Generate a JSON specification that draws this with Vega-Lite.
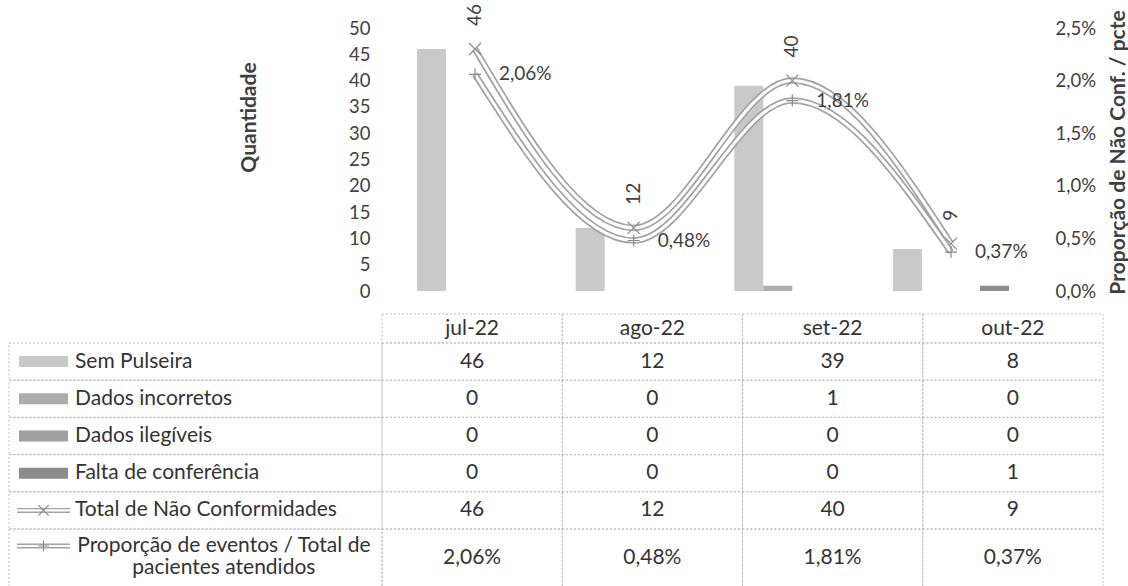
{
  "$schema": "https://vega.github.io/schema/vega-lite/v6.json",
  "padding": {"left": 7, "top": 3, "right": 0, "bottom": 0},
  "background": "white",
  "bounds": "flush",
  "align": "each",
  "columns": 2,
  "spacing": 0,
  "config": {
    "view": {"stroke": null},
    "font": "Lato",
    "text": {"font": "Lato"},
    "axis": {"labelFont": "Lato", "titleFont": "Lato", "domain": false, "ticks": false, "grid": false, "labelColor": "#404040", "titleColor": "#404040", "labelFontSize": 18.5, "titleFontSize": 21, "titleFontWeight": "bold", "labelOverlap": false},
    "locale": {"number": {"decimal": ",", "thousands": ".", "grouping": [3], "currency": ["R$", ""]}}
  },
  "datasets": {
    "dados": [
      {"mes": "jul-22", "serie": "Sem Pulseira", "valor": 46},
      {"mes": "jul-22", "serie": "Dados incorretos", "valor": 0},
      {"mes": "jul-22", "serie": "Dados ilegíveis", "valor": 0},
      {"mes": "jul-22", "serie": "Falta de conferência", "valor": 0},
      {"mes": "jul-22", "serie": "Total de Não Conformidades", "valor": 46},
      {"mes": "jul-22", "serie": "Proporção de eventos / Total de pacientes atendidos", "valor": 0.0206},
      {"mes": "ago-22", "serie": "Sem Pulseira", "valor": 12},
      {"mes": "ago-22", "serie": "Dados incorretos", "valor": 0},
      {"mes": "ago-22", "serie": "Dados ilegíveis", "valor": 0},
      {"mes": "ago-22", "serie": "Falta de conferência", "valor": 0},
      {"mes": "ago-22", "serie": "Total de Não Conformidades", "valor": 12},
      {"mes": "ago-22", "serie": "Proporção de eventos / Total de pacientes atendidos", "valor": 0.0048},
      {"mes": "set-22", "serie": "Sem Pulseira", "valor": 39},
      {"mes": "set-22", "serie": "Dados incorretos", "valor": 1},
      {"mes": "set-22", "serie": "Dados ilegíveis", "valor": 0},
      {"mes": "set-22", "serie": "Falta de conferência", "valor": 0},
      {"mes": "set-22", "serie": "Total de Não Conformidades", "valor": 40},
      {"mes": "set-22", "serie": "Proporção de eventos / Total de pacientes atendidos", "valor": 0.0181},
      {"mes": "out-22", "serie": "Sem Pulseira", "valor": 8},
      {"mes": "out-22", "serie": "Dados incorretos", "valor": 0},
      {"mes": "out-22", "serie": "Dados ilegíveis", "valor": 0},
      {"mes": "out-22", "serie": "Falta de conferência", "valor": 1},
      {"mes": "out-22", "serie": "Total de Não Conformidades", "valor": 9},
      {"mes": "out-22", "serie": "Proporção de eventos / Total de pacientes atendidos", "valor": 0.0037}
    ]
  },
  "concat": [
    {"width": 373, "height": 286, "data": {"values": []}, "mark": "point", "encoding": {}},
    {
      "width": 648, "height": 263,
      "data": {"name": "dados"},
      "resolve": {"scale": {"y": "independent"}},
      "layer": [
        {
          "encoding": {
            "x": {"field": "mes", "type": "nominal", "sort": ["jul-22", "ago-22", "set-22", "out-22"], "axis": null, "scale": {"paddingInner": 0.269, "paddingOuter": 0.1765, "align": 0.625}},
            "y": {"field": "valor", "type": "quantitative", "stack": null, "scale": {"domain": [0, 50], "nice": false},
              "axis": {"title": "Quantidade", "values": [0, 5, 10, 15, 20, 25, 30, 35, 40, 45, 50], "labelOverlap": false, "labelFlush": false, "labelPadding": 12, "titleAngle": 270, "titleX": -133, "titleY": 89, "titleAlign": "center", "titleBaseline": "middle"}}
          },
          "layer": [
            {
              "transform": [{"filter": {"field": "serie", "oneOf": ["Sem Pulseira", "Dados incorretos", "Dados ilegíveis", "Falta de conferência"]}}],
              "mark": {"type": "bar"},
              "encoding": {
                "xOffset": {"field": "serie", "type": "nominal", "sort": ["Sem Pulseira", "Dados incorretos", "Dados ilegíveis", "Falta de conferência"], "scale": {"paddingInner": 0, "paddingOuter": 0}},
                "color": {"field": "serie", "type": "nominal", "scale": {"domain": ["Sem Pulseira", "Dados incorretos", "Dados ilegíveis", "Falta de conferência"], "range": ["#c9c9c9", "#adadad", "#a0a0a0", "#8c8c8c"]}, "legend": null}
              }
            },
            {
              "transform": [{"filter": {"field": "serie", "equal": "Total de Não Conformidades"}}],
              "mark": {"type": "line", "interpolate": "monotone", "color": "#a3a3a3", "strokeWidth": 6.5}
            },
            {
              "transform": [{"filter": {"field": "serie", "equal": "Total de Não Conformidades"}}],
              "mark": {"type": "line", "interpolate": "monotone", "color": "#ffffff", "strokeWidth": 3}
            },
            {
              "transform": [{"filter": {"field": "serie", "equal": "Total de Não Conformidades"}}],
              "mark": {"type": "point", "shape": "M-1,-1L1,1M-1,1L1,-1", "filled": false, "color": "#8a8a8a", "strokeWidth": 1.2, "size": 144, "opacity": 1}
            },
            {
              "transform": [{"filter": {"field": "serie", "equal": "Total de Não Conformidades"}}],
              "mark": {"type": "text", "angle": 270, "align": "left", "baseline": "middle", "dx": 23, "fontSize": 19, "color": "#404040"},
              "encoding": {"text": {"field": "valor", "type": "quantitative", "format": "d"}}
            }
          ]
        },
        {
          "transform": [{"filter": {"field": "serie", "equal": "Proporção de eventos / Total de pacientes atendidos"}}],
          "encoding": {
            "x": {"field": "mes", "type": "nominal", "sort": ["jul-22", "ago-22", "set-22", "out-22"], "axis": null},
            "y": {"field": "valor", "type": "quantitative", "scale": {"domain": [0, 0.025], "nice": false},
              "axis": {"orient": "right", "title": "Proporção de Não Conf. / pcte", "format": ".1%", "values": [0, 0.005, 0.01, 0.015, 0.02, 0.025], "labelOverlap": false, "labelFlush": false, "labelPadding": 25, "titleAngle": 270, "titleX": 88, "titleY": 124, "titleAlign": "center", "titleBaseline": "middle"}}
          },
          "layer": [
            {"mark": {"type": "line", "interpolate": "monotone", "color": "#a3a3a3", "strokeWidth": 6.5}},
            {"mark": {"type": "line", "interpolate": "monotone", "color": "#ffffff", "strokeWidth": 3}},
            {"mark": {"type": "point", "shape": "M-1,0L1,0M0,-1L0,1", "filled": false, "color": "#8a8a8a", "strokeWidth": 1.2, "size": 144, "opacity": 1}},
            {"mark": {"type": "text", "align": "left", "baseline": "middle", "dx": 24, "fontSize": 19, "color": "#404040"},
             "encoding": {"text": {"field": "valor", "type": "quantitative", "format": ".2%"}}}
          ]
        }
      ]
    },
    {"width": 373, "height": 29, "data": {"values": []}, "mark": "point", "encoding": {}},
    {
      "width": 721, "height": 29,
      "data": {"name": "dados"},
      "transform": [{"filter": {"field": "serie", "equal": "Sem Pulseira"}}],
      "encoding": {
        "x": {"field": "mes", "type": "nominal", "sort": ["jul-22", "ago-22", "set-22", "out-22"], "axis": null, "scale": {"paddingInner": 0, "paddingOuter": 0}},
        "y": {"datum": "cabecalho", "type": "nominal", "axis": null, "scale": {"paddingInner": 0, "paddingOuter": 0}}
      },
      "layer": [
        {"mark": {"type": "rect", "fill": "#ffffff", "fillOpacity": 0, "stroke": "#bdbdbd", "strokeDash": [2, 2], "strokeWidth": 1}},
        {"mark": {"type": "text", "fontSize": 21, "color": "#333333", "baseline": "middle"}, "encoding": {"text": {"field": "mes"}}}
      ]
    },
    {
      "width": 373, "height": 186,
      "data": {"name": "dados"},
      "transform": [{"filter": {"field": "mes", "equal": "jul-22"}}, {"filter": {"field": "serie", "oneOf": ["Sem Pulseira", "Dados incorretos", "Dados ilegíveis", "Falta de conferência", "Total de Não Conformidades"]}}],
      "encoding": {
        "y": {"field": "serie", "type": "nominal", "sort": ["Sem Pulseira", "Dados incorretos", "Dados ilegíveis", "Falta de conferência", "Total de Não Conformidades"], "axis": null, "scale": {"paddingInner": 0, "paddingOuter": 0}}
      },
      "layer": [
        {"mark": {"type": "rect", "fill": "#ffffff", "fillOpacity": 0, "stroke": "#bdbdbd", "strokeDash": [2, 2], "strokeWidth": 1},
         "encoding": {"x": {"datum": 0, "type": "quantitative", "scale": {"domain": [0, 1], "nice": false, "zero": false}, "axis": null}, "x2": {"datum": 1}}},
        {"transform": [{"filter": {"field": "serie", "oneOf": ["Sem Pulseira", "Dados incorretos", "Dados ilegíveis", "Falta de conferência"]}}],
         "mark": {"type": "point", "shape": "M-1,-0.224H1V0.224H-1Z", "filled": true, "size": 2401, "opacity": 1},
         "encoding": {"x": {"datum": 0.0925, "type": "quantitative"}, "color": {"field": "serie", "type": "nominal", "scale": {"domain": ["Sem Pulseira", "Dados incorretos", "Dados ilegíveis", "Falta de conferência"], "range": ["#c9c9c9", "#adadad", "#a0a0a0", "#8c8c8c"]}, "legend": null}}},
        {"transform": [{"filter": {"field": "serie", "equal": "Total de Não Conformidades"}}],
         "mark": {"type": "point", "shape": "M-1,0H1", "filled": false, "color": "#a3a3a3", "strokeWidth": 5, "size": 2809, "opacity": 1},
         "encoding": {"x": {"datum": 0.0925, "type": "quantitative"}}},
        {"transform": [{"filter": {"field": "serie", "equal": "Total de Não Conformidades"}}],
         "mark": {"type": "point", "shape": "M-1,0H1", "filled": false, "color": "#ffffff", "strokeWidth": 2.2, "size": 2809, "opacity": 1},
         "encoding": {"x": {"datum": 0.0925, "type": "quantitative"}}},
        {"transform": [{"filter": {"field": "serie", "equal": "Total de Não Conformidades"}}],
         "mark": {"type": "point", "shape": "M-1,-1L1,1M-1,1L1,-1", "filled": false, "color": "#8a8a8a", "strokeWidth": 1.2, "size": 110, "opacity": 1},
         "encoding": {"x": {"datum": 0.0925, "type": "quantitative"}}},
        {"mark": {"type": "text", "align": "left", "baseline": "middle", "fontSize": 21, "color": "#333333"},
         "encoding": {"x": {"datum": 0.177, "type": "quantitative"}, "text": {"field": "serie"}}}
      ]
    },
    {
      "width": 721, "height": 186,
      "data": {"name": "dados"},
      "transform": [{"filter": {"field": "serie", "oneOf": ["Sem Pulseira", "Dados incorretos", "Dados ilegíveis", "Falta de conferência", "Total de Não Conformidades"]}}],
      "encoding": {
        "x": {"field": "mes", "type": "nominal", "sort": ["jul-22", "ago-22", "set-22", "out-22"], "axis": null, "scale": {"paddingInner": 0, "paddingOuter": 0}},
        "y": {"field": "serie", "type": "nominal", "sort": ["Sem Pulseira", "Dados incorretos", "Dados ilegíveis", "Falta de conferência", "Total de Não Conformidades"], "axis": null, "scale": {"paddingInner": 0, "paddingOuter": 0}}
      },
      "layer": [
        {"mark": {"type": "rect", "fill": "#ffffff", "fillOpacity": 0, "stroke": "#bdbdbd", "strokeDash": [2, 2], "strokeWidth": 1}},
        {"mark": {"type": "text", "fontSize": 21, "color": "#333333", "baseline": "middle"}, "encoding": {"text": {"field": "valor", "type": "quantitative", "format": "d"}}}
      ]
    },
    {
      "width": 373, "height": 58,
      "data": {"name": "dados"},
      "transform": [{"filter": {"field": "mes", "equal": "jul-22"}}, {"filter": {"field": "serie", "equal": "Proporção de eventos / Total de pacientes atendidos"}}, {"calculate": "replace(datum.serie, ' pacientes', '\\npacientes')", "as": "rotulo"}],
      "encoding": {
        "y": {"field": "serie", "type": "nominal", "axis": null, "scale": {"paddingInner": 0, "paddingOuter": 0}}
      },
      "layer": [
        {"mark": {"type": "rect", "fill": "#ffffff", "fillOpacity": 0, "stroke": "#bdbdbd", "strokeDash": [2, 2], "strokeWidth": 1},
         "encoding": {"x": {"datum": 0, "type": "quantitative", "scale": {"domain": [0, 1], "nice": false, "zero": false}, "axis": null}, "x2": {"datum": 1}}},
        {"mark": {"type": "point", "shape": "M-1,0H1", "filled": false, "color": "#a3a3a3", "strokeWidth": 5, "size": 2809, "opacity": 1, "yOffset": -12},
         "encoding": {"x": {"datum": 0.0925, "type": "quantitative"}}},
        {"mark": {"type": "point", "shape": "M-1,0H1", "filled": false, "color": "#ffffff", "strokeWidth": 2.2, "size": 2809, "opacity": 1, "yOffset": -12},
         "encoding": {"x": {"datum": 0.0925, "type": "quantitative"}}},
        {"mark": {"type": "point", "shape": "M-1,0L1,0M0,-1L0,1", "filled": false, "color": "#8a8a8a", "strokeWidth": 1.2, "size": 110, "opacity": 1, "yOffset": -12},
         "encoding": {"x": {"datum": 0.0925, "type": "quantitative"}}},
        {"mark": {"type": "text", "align": "center", "baseline": "middle", "dy": -12, "fontSize": 21, "color": "#333333", "lineBreak": "\n", "lineHeight": 22},
         "encoding": {"x": {"datum": 0.576, "type": "quantitative"}, "text": {"field": "rotulo"}}}
      ]
    },
    {
      "width": 721, "height": 58,
      "data": {"name": "dados"},
      "transform": [{"filter": {"field": "serie", "equal": "Proporção de eventos / Total de pacientes atendidos"}}],
      "encoding": {
        "x": {"field": "mes", "type": "nominal", "sort": ["jul-22", "ago-22", "set-22", "out-22"], "axis": null, "scale": {"paddingInner": 0, "paddingOuter": 0}},
        "y": {"field": "serie", "type": "nominal", "axis": null, "scale": {"paddingInner": 0, "paddingOuter": 0}}
      },
      "layer": [
        {"mark": {"type": "rect", "fill": "#ffffff", "fillOpacity": 0, "stroke": "#bdbdbd", "strokeDash": [2, 2], "strokeWidth": 1}},
        {"mark": {"type": "text", "fontSize": 21, "color": "#333333", "baseline": "middle"}, "encoding": {"text": {"field": "valor", "type": "quantitative", "format": ".2%"}}}
      ]
    }
  ]
}
